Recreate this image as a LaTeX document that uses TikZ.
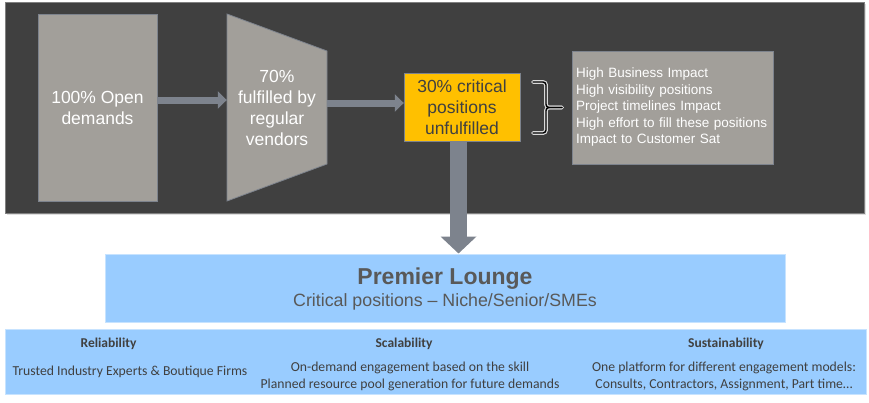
\documentclass[tikz,border=0pt]{standalone}
\usepackage{fontspec}
\setmainfont{Liberation Sans}
\newfontfamily\calibri{Carlito}
\usetikzlibrary{arrows.meta,shadows}

\definecolor{panelgray}{RGB}{64,64,64}
\definecolor{boxgray}{RGB}{162,159,154}
\definecolor{arrowgray}{RGB}{125,131,141}
\definecolor{crityellow}{RGB}{255,192,0}
\definecolor{loungeblue}{RGB}{153,204,255}
\definecolor{textdark}{RGB}{89,89,89}

\begin{document}
\begin{tikzpicture}[x=1pt,y=-1pt,
  graybox/.style={draw=arrowgray,line width=0.8pt,fill=boxgray,text=white},
  flowarrow/.style={draw=arrowgray,line width=7pt,-{Triangle[length=9pt,width=17pt]}},
  bluebox/.style={draw=loungeblue!55!white,line width=1pt,fill=loungeblue,text=textdark},
  pillarhead/.style={font=\calibri\fontsize{13.5}{16}\selectfont\bfseries,text=panelgray},
  pillartext/.style={font=\calibri\fontsize{13.7}{17}\selectfont,text=panelgray,align=center},
  bigtext/.style={font=\fontsize{17.5}{21}\selectfont,align=center},
  bracepath/.style={rounded corners=3pt,line cap=round}]
\useasboundingbox (0,0) rectangle (869,402);

\node[draw=gray,fill=panelgray,minimum width=859pt,minimum height=211pt,inner sep=0pt,
  drop shadow={opacity=0.25,shadow xshift=2pt,shadow yshift=-2pt}] (panel) at (434.5,107.5) {};

\node[graybox,bigtext,minimum width=119pt,minimum height=187pt] (open) at (97.5,107.5) {100\% Open\\demands};

\filldraw[fill=boxgray,draw=arrowgray,line width=0.8pt] (227,14) -- (327,51) -- (327,164) -- (227,201) -- cycle;
\node[bigtext,text=white,minimum width=100pt,minimum height=187pt,inner sep=0pt] (vendors) at (277,107.5) {70\%\\fulfilled by\\regular\\vendors};

\node[draw=arrowgray,fill=crityellow,text=panelgray,bigtext,minimum width=116pt,minimum height=68pt] (crit) at (462,107) {30\% critical\\positions\\unfulfilled};

\node[graybox,text width=194pt,minimum height=113pt,align=left,font=\fontsize{13.5}{16.5}\selectfont] (impact) at (673,107.5)
  {High Business Impact\\High visibility positions\\Project timelines Impact\\High effort to fill these positions\\Impact to Customer Sat};

\coordinate (braceTop) at (533,82);
\coordinate (braceMid) at (546,107.5);
\coordinate (braceBot) at (533,133);
\coordinate (braceTip) at (562,107.5);
\foreach \col/\wd in {white!70!gray/3.8pt, black/1.4pt}{
  \draw[\col,line width=\wd,bracepath] (braceTop) -| (braceMid) -- (braceTip);
  \draw[\col,line width=\wd,bracepath] (braceBot) -| (braceMid) -- (braceTip);
}

\draw[flowarrow] ([yshift=7.5pt]open.east) -- ([yshift=7.5pt]open.east -| vendors.west);
\draw[flowarrow] ([yshift=4.5pt]vendors.east) -- ([yshift=4.5pt]vendors.east -| crit.west);

\node[bluebox,minimum width=680pt,minimum height=68pt] (lounge) at (445,288) {};
\node[text=textdark,font=\fontsize{23}{24}\selectfont\bfseries] (loungeTitle) at (445,279) {Premier Lounge};
\node[text=textdark,font=\fontsize{17.8}{21}\selectfont] (loungeSub) at (445,302) {Critical positions -- Niche/Senior/SMEs};

\draw[draw=arrowgray,line width=17pt,-{Triangle[length=17pt,width=35pt]}] ([xshift=-3.5pt]crit.south) -- ([xshift=-3.5pt]crit.south |- lounge.north);

\node[bluebox,minimum width=861pt,minimum height=65pt] (pillars) at (435.5,361.5) {};
\node[pillarhead] (reliab) at (108.5,344) {Reliability};
\node[pillarhead] (scalab) at (404,344) {Scalability};
\node[pillarhead] (sustain) at (726,344) {Sustainability};
\node[pillartext] (reliabText) at (130,372) {Trusted Industry Experts \& Boutique Firms};
\node[pillartext] (scalabText) at (410,376) {On-demand engagement based on the skill\\Planned resource pool generation for future demands};
\node[pillartext] (sustainText) at (724,376) {One platform for different engagement models:\\Consults, Contractors, Assignment, Part time…};
\end{tikzpicture}
\end{document}
